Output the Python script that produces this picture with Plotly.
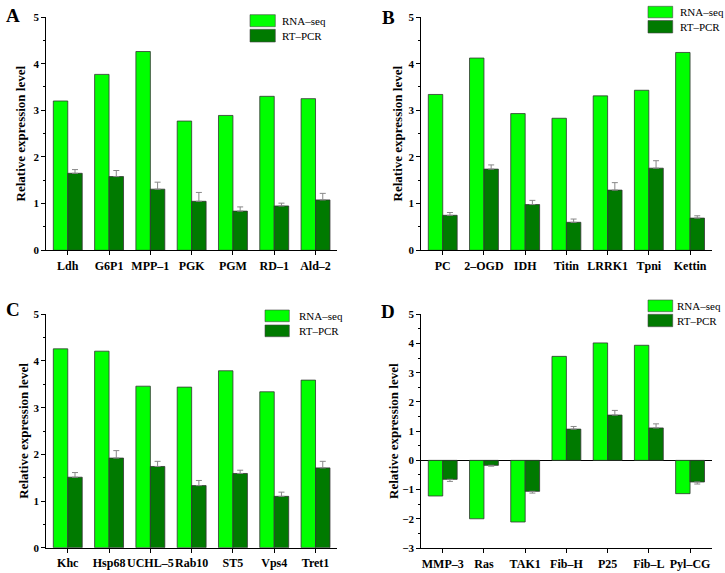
import plotly.graph_objects as go

# ---------------- data ----------------
genes_A = ["Ldh", "G6P1", "MPP–1", "PGK", "PGM", "RD–1", "Ald–2"]
rnaseq_A = [3.20, 3.77, 4.26, 2.77, 2.89, 3.30, 3.25]
rtpcr_A = [1.65, 1.58, 1.31, 1.05, 0.84, 0.95, 1.08]
err_A = [0.08, 0.13, 0.15, 0.19, 0.09, 0.06, 0.14]

genes_B = ["PC", "2–OGD", "IDH", "Titin", "LRRK1", "Tpni", "Kettin"]
rnaseq_B = [3.34, 4.12, 2.93, 2.83, 3.31, 3.43, 4.24]
rtpcr_B = [0.75, 1.74, 0.98, 0.60, 1.29, 1.76, 0.69]
err_B = [0.06, 0.09, 0.09, 0.07, 0.16, 0.16, 0.05]

genes_C = ["Khc", "Hsp68", "UCHL–5", "Rab10", "ST5", "Vps4", "Tret1"]
rnaseq_C = [4.26, 4.21, 3.46, 3.44, 3.79, 3.34, 3.59]
rtpcr_C = [1.51, 1.92, 1.74, 1.33, 1.59, 1.10, 1.71]
err_C = [0.10, 0.16, 0.11, 0.11, 0.07, 0.09, 0.14]

genes_D = ["MMP–3", "Ras", "TAK1", "Fib–H", "P25", "Fib–L", "Pyl–CG"]
rnaseq_D = [-1.22, -2.00, -2.11, 3.56, 4.02, 3.94, -1.14]
rtpcr_D = [-0.65, -0.17, -1.06, 1.07, 1.55, 1.11, -0.74]
err_D = [0.07, 0.03, 0.06, 0.09, 0.16, 0.14, 0.07]

series_names = ["RNA–seq", "RT–PCR"]
panel_letters = ["A", "B", "C", "D"]
y_title = "Relative expression level"

# ---------------- style ----------------
LIGHT = "#00FF00"
DARK = "#007A00"
COLORS = [LIGHT, DARK]
FONT = "Times New Roman, Liberation Serif, serif"

panels = [
    (genes_A, rnaseq_A, rtpcr_A, err_A),
    (genes_B, rnaseq_B, rtpcr_B, err_B),
    (genes_C, rnaseq_C, rtpcr_C, err_C),
    (genes_D, rnaseq_D, rtpcr_D, err_D),
]

W, H = 725, 573
def px(x):
    return x / W
def py(y):
    return 1 - y / H

xdoms = [[px(46.3), px(337)], [px(421.3), px(711.5)], [px(46.3), px(337)], [px(421.3), px(711.5)]]
ydoms = [[py(250.3), py(17)], [py(250.3), py(17)], [py(547.7), py(314.3)], [py(548), py(314.3)]]
yranges = [[0, 5], [0, 5], [0, 5], [-3, 5]]
title_standoff = [4, 2, 1, 0]
# legend key geometry in pixels: swatch left, swatch right, text x, [(top, bottom) per item]
legend_geo = [
    (250, 275.3, 280, [(14.7, 26.7), (29.3, 42)]),
    (648, 672.7, 678, [(6.3, 17.8), (20.5, 33)]),
    (265, 289.3, 296.7, [(310, 321.7), (325, 336.7)]),
    (648, 672.7, 675.3, [(300, 311.7), (314.3, 326.7)]),
]
letter_pos = [(13, 16), (388.5, 17.5), (13.3, 309), (388, 311)]

fig = go.Figure()
layout = dict(
    width=W, height=H,
    margin=dict(l=0, r=0, t=0, b=0),
    paper_bgcolor="white", plot_bgcolor="white",
    barmode="group", bargap=0.3, bargroupgap=0,
    font=dict(family=FONT, color="black"),
    annotations=[], shapes=[], showlegend=False,
)

for i, (genes, rna, rt, err) in enumerate(panels):
    n = i + 1
    xa = "x" if n == 1 else f"x{n}"
    ya = "y" if n == 1 else f"y{n}"
    err_plus = [e if v >= 0 else 0 for v, e in zip(rt, err)]
    err_minus = [e if v < 0 else 0 for v, e in zip(rt, err)]
    fig.add_trace(go.Bar(
        x=genes, y=rna, name=series_names[0], xaxis=xa, yaxis=ya,
        marker=dict(color=LIGHT, line=dict(color="#333333", width=0.8)),
    ))
    fig.add_trace(go.Bar(
        x=genes, y=rt, name=series_names[1], xaxis=xa, yaxis=ya,
        marker=dict(color=DARK, line=dict(color="#333333", width=0.8)),
        error_y=dict(type="data", symmetric=False, array=err_plus, arrayminus=err_minus,
                     color="#888888", thickness=1, width=3),
    ))
    xkey = "xaxis" if n == 1 else f"xaxis{n}"
    ykey = "yaxis" if n == 1 else f"yaxis{n}"
    layout[xkey] = dict(
        domain=xdoms[i], anchor=ya, type="category", range=[-0.52, 6.52],
        showline=True, linecolor="black", linewidth=1.2, mirror=False,
        ticks="outside", ticklen=4, tickwidth=1, tickcolor="black", tickangle=0,
        tickfont=dict(family=FONT, size=12, color="black", weight="bold"),
        showgrid=False, zeroline=False, fixedrange=True, automargin=False,
        minor=dict(ticks="outside", ticklen=2.5, tickwidth=1, tickcolor="black",
                   tick0=0.5, dtick=1, showgrid=False),
    )
    layout[ykey] = dict(
        domain=ydoms[i], anchor=xa, range=yranges[i], dtick=1, tick0=0,
        showline=True, linecolor="black", linewidth=1.2,
        ticks="outside", ticklen=4, tickwidth=1, tickcolor="black",
        tickfont=dict(family=FONT, size=11, color="black", weight="bold"),
        showgrid=False, automargin=False,
        zeroline=(i == 3), zerolinecolor="black", zerolinewidth=1.2,
        minor=dict(ticks="outside", ticklen=2.5, tickwidth=1, tickcolor="black",
                   dtick=0.5, showgrid=False),
        title=dict(text=y_title, standoff=title_standoff[i],
                   font=dict(family=FONT, size=13, color="black", weight="bold")),
    )
    # legend key for this panel
    sl, sr, tx, items = legend_geo[i]
    for k, (top, bot) in enumerate(items):
        layout["shapes"].append(dict(
            type="rect", xref="paper", yref="paper",
            x0=px(sl), x1=px(sr), y0=py(bot), y1=py(top),
            fillcolor=COLORS[k], line=dict(color="#444444", width=0.6),
        ))
        layout["annotations"].append(dict(
            text=series_names[k], x=px(tx), y=py((top + bot) / 2),
            xref="paper", yref="paper", xanchor="left", yanchor="middle",
            showarrow=False, font=dict(family=FONT, size=11, color="black"),
        ))
    cx, cy = letter_pos[i]
    layout["annotations"].append(dict(
        text=panel_letters[i], x=px(cx), y=py(cy), xref="paper", yref="paper",
        xanchor="center", yanchor="middle", showarrow=False,
        font=dict(family=FONT, size=19, color="black", weight="bold"),
    ))

fig.update_layout(**layout)
fig.write_html(
    "out.html",
    config={"displayModeBar": False},
    post_script="document.documentElement.style.margin='0';document.body.style.margin='0';"
                "document.body.style.padding='0';document.body.style.overflow='hidden';",
)
